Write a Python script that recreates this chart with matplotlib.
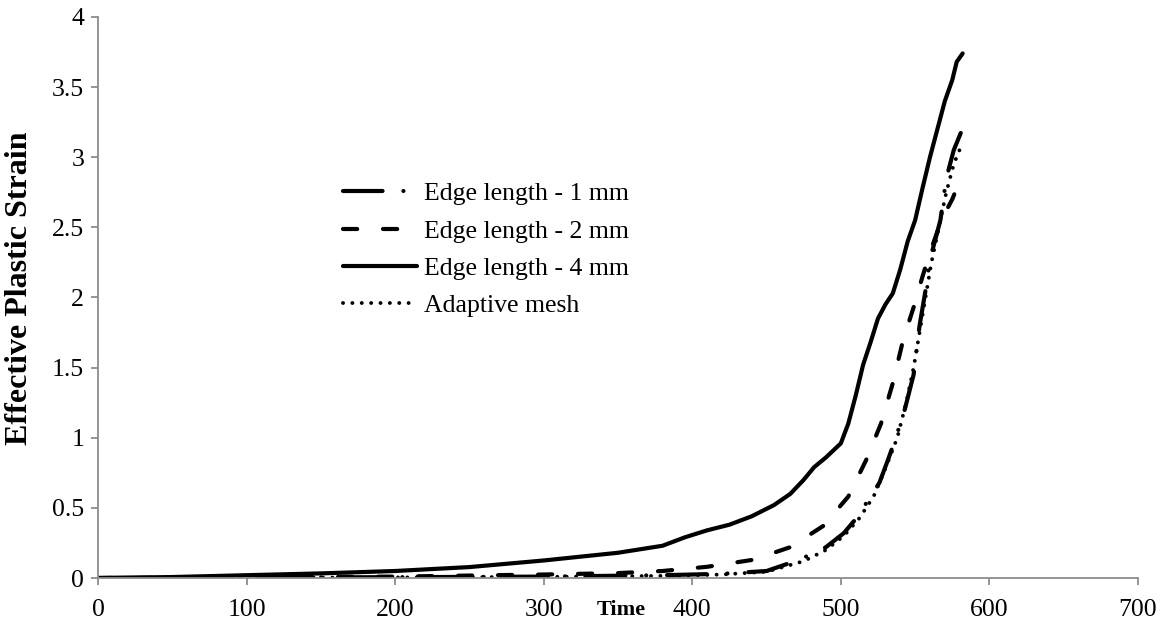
import matplotlib
matplotlib.use("Agg")
import matplotlib.pyplot as plt

plt.rcParams['font.family'] = ['Liberation Serif', 'DejaVu Serif']

# Edge length - 1 mm (dash-dot)
t1 = [0, 100, 200, 300, 380, 420, 450, 472, 490, 502, 510, 520, 526, 532, 537, 543,
      549, 553, 557, 560, 567, 571, 576, 581]
y1 = [0, 0.003, 0.006, 0.01, 0.02, 0.03, 0.05, 0.13, 0.22, 0.32, 0.42, 0.58, 0.68, 0.85,
      1.0, 1.2, 1.45, 1.8, 2.05, 2.27, 2.55, 2.85, 3.05, 3.18]

# Edge length - 2 mm (dashed)
t2 = [0, 100, 200, 300, 350, 380, 410, 441, 466, 488, 505, 517, 527, 535, 542, 549,
      555, 560, 565, 570, 575, 580]
y2 = [0, 0.005, 0.01, 0.025, 0.035, 0.05, 0.08, 0.13, 0.22, 0.37, 0.58, 0.84, 1.10, 1.39,
      1.70, 1.93, 2.15, 2.32, 2.47, 2.6, 2.7, 2.83]

# Edge length - 4 mm (solid)
t4 = [0, 50, 100, 150, 200, 250, 300, 350, 380, 395, 410, 425, 440, 455, 466, 475, 482,
      490, 500, 505, 510, 515, 520, 525, 530, 535, 540, 545, 550, 555, 560, 565, 570,
      575, 578, 582]
y4 = [0, 0.007, 0.02, 0.033, 0.05, 0.078, 0.125, 0.18, 0.23, 0.29, 0.34, 0.38, 0.44,
      0.52, 0.6, 0.7, 0.79, 0.86, 0.96, 1.1, 1.3, 1.52, 1.68, 1.85, 1.95, 2.03, 2.2,
      2.4, 2.55, 2.78, 3.0, 3.2, 3.4, 3.55, 3.68, 3.74]

# Adaptive mesh (dotted)
ta = [0, 100, 200, 300, 380, 420, 450, 475, 490, 502, 512, 522, 530, 538, 544, 549,
      553, 557, 561, 566, 571, 576, 581]
ya = [0, 0.002, 0.004, 0.008, 0.015, 0.025, 0.045, 0.12, 0.2, 0.3, 0.42, 0.58, 0.78,
      1.0, 1.25, 1.5, 1.75, 2.0, 2.25, 2.5, 2.75, 2.95, 3.08]

labels = ['Edge length - 1 mm', 'Edge length - 2 mm', 'Edge length - 4 mm', 'Adaptive mesh']

fig = plt.figure(figsize=(11.7, 6.24), dpi=100)
ax = fig.add_axes([0.0838, 0.0737, 0.8888, 0.8991])

lw = 3
ax.plot(t1, y1, color='black', lw=lw, dashes=(9.5, 5, 0.01, 5), dash_capstyle='round',
        label=labels[0])
ax.plot(t2, y2, color='black', lw=lw, dashes=(3.4, 6.2), dash_capstyle='round',
        label=labels[1])
ax.plot(t4, y4, color='black', lw=lw, solid_capstyle='round', label=labels[2])
ax.plot(ta, ya, color='black', lw=2.8, dashes=(0.01, 2.4), dash_capstyle='round',
        label=labels[3])

ax.set_xlim(0, 700)
ax.set_ylim(0, 4)
ax.set_xticks(range(0, 701, 100))
ax.set_yticks([0, 0.5, 1, 1.5, 2, 2.5, 3, 3.5, 4])
ax.set_yticklabels(['0', '0.5', '1', '1.5', '2', '2.5', '3', '3.5', '4'])

for s in ['top', 'right']:
    ax.spines[s].set_visible(False)
for s in ['left', 'bottom']:
    ax.spines[s].set_color('#8c8c8c')
    ax.spines[s].set_linewidth(1.3)
ax.tick_params(axis='both', direction='out', length=5, width=1.3, color='#8c8c8c',
               labelsize=18.5, labelcolor='black')
ax.tick_params(axis='x', pad=10)
ax.tick_params(axis='y', pad=5)

ax.set_xlabel('Time', fontsize=16, fontweight='bold')
ax.xaxis.set_label_coords(0.503, -0.04)
ax.set_ylabel('Effective Plastic Strain', fontsize=23, fontweight='bold')
ax.yaxis.set_label_coords(-0.062, 0.517)

ax.legend(loc='upper left', bbox_to_anchor=(0.236, 0.705), frameon=False, fontsize=18.5,
          handlelength=2.85, handletextpad=0.3, labelspacing=0.55, borderpad=0,
          borderaxespad=0)

fig.savefig('out.png', dpi=100)
